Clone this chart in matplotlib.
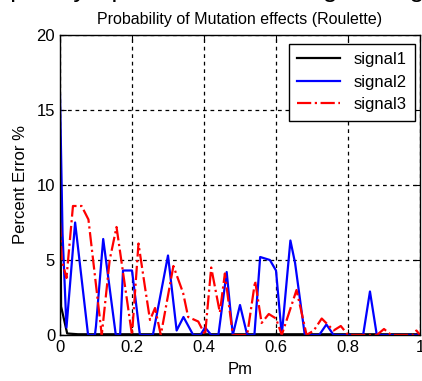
import matplotlib.pyplot as plt
import numpy as np

plt.rcParams['font.family'] = ['Liberation Sans', 'DejaVu Sans']

# Pm values and percent error
pm1 = [0, 0.003, 0.02, 0.05, 1.0]
sig1 = [13.0, 1.9, 0.1, 0.05, 0.05]

pm2 = [0, 0.007, 0.018, 0.042, 0.078, 0.097, 0.1, 0.12, 0.155, 0.167, 0.175, 0.2,
       0.222, 0.258, 0.3, 0.324, 0.343, 0.37, 0.39, 0.403, 0.42, 0.44, 0.463, 0.48,
       0.5, 0.52, 0.54, 0.556, 0.583, 0.6, 0.616, 0.64, 0.653, 0.68, 0.72, 0.74,
       0.76, 0.842, 0.861, 0.88, 1.0]
sig2 = [16.0, 6.8, 0.5, 7.5, 0.0, 0.0, 0.6, 6.4, 0.0, 0.0, 4.3, 4.3,
        0.0, 0.0, 5.3, 0.3, 1.2, 0.0, 0.0, 0.5, 0.0, 0.0, 4.2, 0.0,
        2.0, 0.0, 0.0, 5.2, 5.0, 4.3, 0.0, 6.3, 4.8, 0.0, 0.0, 0.7,
        0.0, 0.0, 2.9, 0.0, 0.0]

pm3 = [0, 0.005, 0.018, 0.036, 0.06, 0.079, 0.116, 0.138, 0.157, 0.2, 0.218, 0.236,
       0.25, 0.264, 0.28, 0.315, 0.342, 0.356, 0.384, 0.403, 0.42, 0.444, 0.458, 0.48,
       0.52, 0.542, 0.56, 0.58, 0.6, 0.616, 0.657, 0.685, 0.705, 0.727, 0.76, 0.78,
       0.8, 0.88, 0.9, 0.92, 0.98, 0.99, 1.0]
sig3 = [7.5, 5.0, 3.8, 8.6, 8.6, 7.7, 0.0, 5.0, 7.2, 0.0, 6.1, 3.2,
        1.0, 1.8, 0.0, 4.6, 2.8, 1.2, 0.9, 0.0, 4.5, 1.5, 4.1, 0.0,
        0.0, 3.6, 0.8, 1.4, 1.1, 0.0, 3.0, 0.0, 0.3, 1.1, 0.3, 0.6,
        0.0, 0.0, 0.4, 0.0, 0.0, 0.3, 0.0]

xticks = [0, 0.2, 0.4, 0.6, 0.8, 1]
yticks = [0, 5, 10, 15, 20]

fig = plt.figure(figsize=(4.22, 3.81), dpi=100)
ax = fig.add_axes([60/422, 46/381, 360/422, 300/381])

ax.plot(pm1, sig1, color='k', lw=1.6, label='signal1')
ax.plot(pm2, sig2, color='b', lw=1.6, label='signal2')
ax.plot(pm3, sig3, color='r', lw=1.6, ls='-.', label='signal3')

ax.set_xlim(0, 1)
ax.set_ylim(0, 20)
ax.set_xticks(xticks)
ax.set_xticklabels(['0', '0.2', '0.4', '0.6', '0.8', '1'])
ax.set_yticks(yticks)
ax.tick_params(direction='in', labelsize=12, length=4, top=True, right=True)
ax.grid(True, color='k', ls=(0, (3, 3)), lw=0.9)
for s in ax.spines.values():
    s.set_linewidth(1.0)

ax.set_xlabel('Pm', fontsize=12, labelpad=5)
ax.set_ylabel('Percent Error %', fontsize=12, labelpad=6)
ax.set_title('Probability of Mutation effects (Roulette)', fontsize=11.5, pad=8)

leg = ax.legend(loc='upper right', fontsize=12, fancybox=False, framealpha=1,
                edgecolor='k', handlelength=2.6, borderpad=0.5, labelspacing=0.45,
                borderaxespad=0, bbox_to_anchor=(0.986, 0.97))
leg.get_frame().set_linewidth(1.0)

# large heading above, mostly cut off by the top edge of the image
fig.text(0.5, 1 + 3/381, 'Frequency Spectrum of the Original Signal', ha='center',
         va='baseline', fontsize=19)

fig.savefig('out.png', dpi=100)
